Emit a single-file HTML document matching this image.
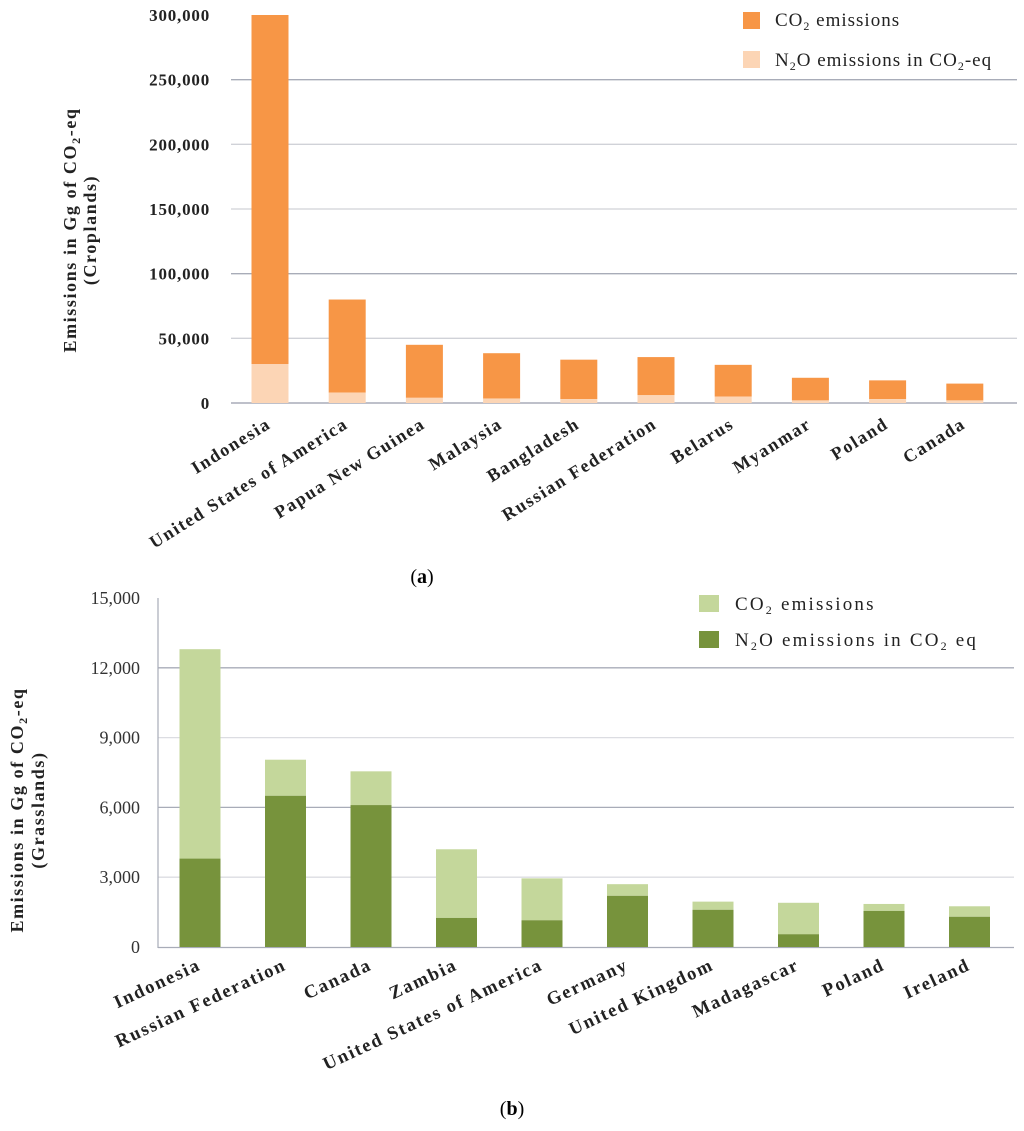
<!DOCTYPE html>
<html><head><meta charset="utf-8"><style>
body{margin:0;background:#fff}
svg{display:block;font-family:"Liberation Serif",serif}
</style></head><body>
<svg id="chart" width="1024" height="1131" viewBox="0 0 1024 1131"></svg>
<script>
const catsA=["Indonesia","United States of America","Papua New Guinea","Malaysia","Bangladesh","Russian Federation","Belarus","Myanmar","Poland","Canada"];
const n2oA=[30000,8000,4000,3500,3000,6000,5000,2000,3000,2000];
const totalA=[300000,80000,45000,38500,33500,35500,29500,19500,17500,15000];
const ticksA=[0,50000,100000,150000,200000,250000,300000];
const tickLabelsA=["0","50,000","100,000","150,000","200,000","250,000","300,000"];
const catsB=["Indonesia","Russian Federation","Canada","Zambia","United States of America","Germany","United Kingdom","Madagascar","Poland","Ireland"];
const n2oB=[3800,6500,6100,1250,1150,2200,1600,550,1550,1300];
const totalB=[12800,8050,7550,4200,2950,2700,1950,1900,1850,1750];
const ticksB=[0,3000,6000,9000,12000,15000];
const tickLabelsB=["0","3,000","6,000","9,000","12,000","15,000"];

const NS="http://www.w3.org/2000/svg";
const svg=document.getElementById('chart');
function mk(tag,attrs,parent,text){const e=document.createElementNS(NS,tag);for(const k in attrs)e.setAttribute(k,attrs[k]);if(text!==undefined)e.textContent=text;(parent||svg).appendChild(e);return e;}

// Chart A
const yA=v=>403-v*(388/300000);
const xA=i=>270+i*77.2;
const gA=mk('g',{});


ticksA.forEach((t,i)=>{
  if(i<ticksA.length-1){const l=mk('line',{x1:231,x2:1017,y1:yA(t),y2:yA(t),stroke:(t===100000||t===250000||t===0)?'#a8acb8':'#d0d2d8','stroke-width':(t===0)?1.5:1.3},gA);
  }
  const tx=mk('text',{x:210,y:yA(t)+6,'text-anchor':'end','font-size':17,'font-weight':'bold',fill:'#222','letter-spacing':'0.8'},gA,tickLabelsA[i]);
  
});
catsA.forEach((c,i)=>{
  const x=xA(i)-18.5;
  const r1=mk('rect',{x:x,y:yA(totalA[i]),width:37,height:yA(n2oA[i])-yA(totalA[i]),fill:'#f79646'},gA);
  
  const r2=mk('rect',{x:x,y:yA(n2oA[i]),width:37,height:yA(0)-yA(n2oA[i]),fill:'#fcd5b5'},gA);
  
  const t=mk('text',{x:xA(i)+2,y:427,'text-anchor':'end','font-size':18,'font-weight':'bold',fill:'#222','letter-spacing':'1.6',transform:`rotate(-32 ${xA(i)+2} 427)`},gA,c);
  
});
const ta=mk('text',{transform:'translate(76,230) rotate(-90)','text-anchor':'middle','font-size':18,'font-weight':'bold',fill:'#222','letter-spacing':'1.6'},gA);
ta.innerHTML='<tspan x="0" y="0">Emissions in Gg of CO<tspan font-size="12" dy="4">2</tspan><tspan dy="-4">-eq</tspan></tspan><tspan x="0" y="20">(Croplands)</tspan>';

const la=mk('g',{},gA);
mk('rect',{x:743,y:12,width:17,height:17,fill:'#f79646'},la);
mk('rect',{x:743,y:51,width:17,height:17,fill:'#fcd5b5'},la);
const l1=mk('text',{x:775,y:26,'font-size':19,fill:'#222','letter-spacing':'1'},la);l1.innerHTML='CO<tspan font-size="12" dy="4">2</tspan><tspan dy="-4"> emissions</tspan>';

const l2=mk('text',{x:775,y:66,'font-size':19,fill:'#222','letter-spacing':'1'},la);l2.innerHTML='N<tspan font-size="12" dy="4">2</tspan><tspan dy="-4">O emissions in CO</tspan><tspan font-size="12" dy="4">2</tspan><tspan dy="-4">-eq</tspan>';

const ca=mk('text',{x:422,y:583,'text-anchor':'middle','font-size':20,fill:'#000'},gA);ca.innerHTML='(<tspan font-weight="bold">a</tspan>)';


// Chart B
const yB=v=>947-v*(349/15000);
const xB=i=>200+i*85.5;
const gB=mk('g',{});


ticksB.forEach((t,i)=>{
  if(t>0&&t<15000){const l=mk('line',{x1:158,x2:1014,y1:yB(t),y2:yB(t),stroke:(t%6000===0)?'#a8acb8':'#dcdde2','stroke-width':1.3},gB);
  }
  const tx=mk('text',{x:140,y:yB(t)+6,'text-anchor':'end','font-size':18,fill:'#333'},gB,tickLabelsB[i]);
  
});
const axv=mk('line',{x1:158,x2:158,y1:598,y2:948,stroke:'#a8acb8','stroke-width':1.2},gB);
const axh=mk('line',{x1:158,x2:1014,y1:947.5,y2:947.5,stroke:'#a8acb8','stroke-width':1.2},gB);
catsB.forEach((c,i)=>{
  const x=xB(i)-20.5;
  const r1=mk('rect',{x:x,y:yB(totalB[i]),width:41,height:yB(n2oB[i])-yB(totalB[i]),fill:'#c4d79b'},gB);
  
  const r2=mk('rect',{x:x,y:yB(n2oB[i]),width:41,height:yB(0)-yB(n2oB[i]),fill:'#77933c'},gB);
  
  const t=mk('text',{x:xB(i)+2,y:969,'text-anchor':'end','font-size':18.5,'font-weight':'bold',fill:'#222','letter-spacing':'1.8',transform:`rotate(-25 ${xB(i)+2} 969)`},gB,c);
  
});
const tb=mk('text',{transform:'translate(23,810) rotate(-90)','text-anchor':'middle','font-size':18,'font-weight':'bold',fill:'#222','letter-spacing':'1.6'},gB);
tb.innerHTML='<tspan x="0" y="0">Emissions in Gg of CO<tspan font-size="12" dy="4">2</tspan><tspan dy="-4">-eq</tspan></tspan><tspan x="0" y="21">(Grasslands)</tspan>';

const lb=mk('g',{},gB);
mk('rect',{x:699,y:595,width:20,height:17,fill:'#c4d79b'},lb);
mk('rect',{x:699,y:631,width:20,height:17,fill:'#77933c'},lb);
const m1=mk('text',{x:735,y:610,'font-size':19,fill:'#222','letter-spacing':'2.2'},lb);m1.innerHTML='CO<tspan font-size="12" dy="4">2</tspan><tspan dy="-4"> emissions</tspan>';

const m2=mk('text',{x:735,y:646,'font-size':19,fill:'#222','letter-spacing':'2.2'},lb);m2.innerHTML='N<tspan font-size="12" dy="4">2</tspan><tspan dy="-4">O emissions in CO</tspan><tspan font-size="12" dy="4">2</tspan><tspan dy="-4"> eq</tspan>';

const cb=mk('text',{x:512,y:1115,'text-anchor':'middle','font-size':20,fill:'#000'},gB);cb.innerHTML='(<tspan font-weight="bold">b</tspan>)';

</script>
</body></html>
